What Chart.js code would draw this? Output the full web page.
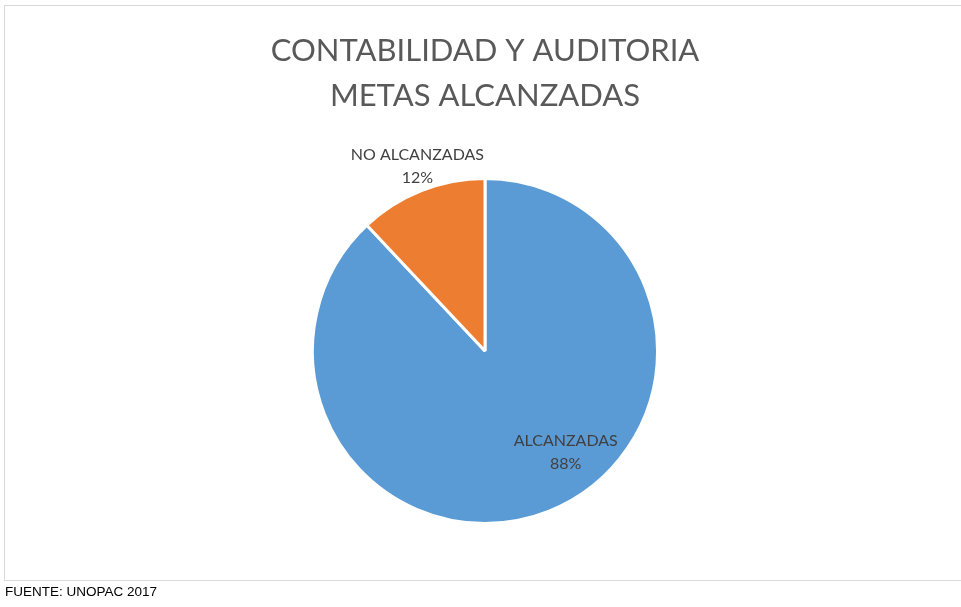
<!DOCTYPE html>
<html>
<head>
<meta charset="utf-8">
<script src="https://cdn.jsdelivr.net/npm/chart.js@4/dist/chart.umd.min.js"></script>
<style>
  body { margin: 0; background: #fff; }
  .wrap { position: relative; width: 961px; height: 607px; }
  .frame { position: absolute; left: 4px; top: 5px; width: 960px; height: 576px; border: 1px solid #d9d9d9; box-sizing: border-box; }
  #pie { position: absolute; left: 0; top: 0; }
  .fuente { position: absolute; left: 5px; top: 584px; font: 13.5px "Liberation Sans", Arial, sans-serif; color: #000; }
</style>
</head>
<body>
<div class="wrap">
  <div class="frame"></div>
  <canvas id="pie" width="961" height="607"></canvas>
  <div class="fuente">FUENTE: UNOPAC 2017</div>
</div>
<script>
const categories = ['ALCANZADAS', 'NO ALCANZADAS'];
const percents = [88, 12];
const sliceColors = ['#5B9BD5', '#ED7D31'];
const titleLines = ['CONTABILIDAD Y AUDITORIA', 'METAS ALCANZADAS'];

// where each label sits: fraction of radius and angle shift (deg) from slice middle
const labelPlace = [{ r: 0.75, shift: -17 }, { r: 1.14, shift: 1.5 }];

const pieLabels = {
    id: 'pieLabels',
    afterDatasetsDraw(chart) {
        const ctx = chart.ctx;
        const meta = chart.getDatasetMeta(0);
        ctx.save();
        ctx.font = '16px Lato';
        ctx.fillStyle = '#404040';
        ctx.textAlign = 'center';
        ctx.textBaseline = 'middle';
        meta.data.forEach(function (arc, i) {
            const p = labelPlace[i];
            const a = (arc.startAngle + arc.endAngle) / 2 + p.shift * Math.PI / 180;
            const d = arc.outerRadius * p.r;
            const x = arc.x + Math.cos(a) * d;
            const y = arc.y + Math.sin(a) * d;
            ctx.fillText(categories[i], x, y - 11);
            ctx.fillText(percents[i] + '%', x, y + 12);
        });
        ctx.restore();
    }
};

new Chart(document.getElementById('pie'), {
    type: 'pie',
    data: {
        labels: categories,
        datasets: [{
            data: percents,
            backgroundColor: sliceColors,
            borderColor: '#ffffff',
            borderWidth: 3
        }]
    },
    options: {
        responsive: false,
        animation: false,
        layout: { padding: { top: 5, left: 9, right: 0, bottom: 82 } },
        plugins: {
            legend: { display: false },
            tooltip: { enabled: false },
            title: {
                display: true,
                text: titleLines,
                color: '#595959',
                font: { family: 'Lato', size: 31, weight: 'normal', lineHeight: 1.45 },
                padding: { top: 24, bottom: 58 }
            }
        }
    },
    plugins: [pieLabels]
});
</script>
</body>
</html>
